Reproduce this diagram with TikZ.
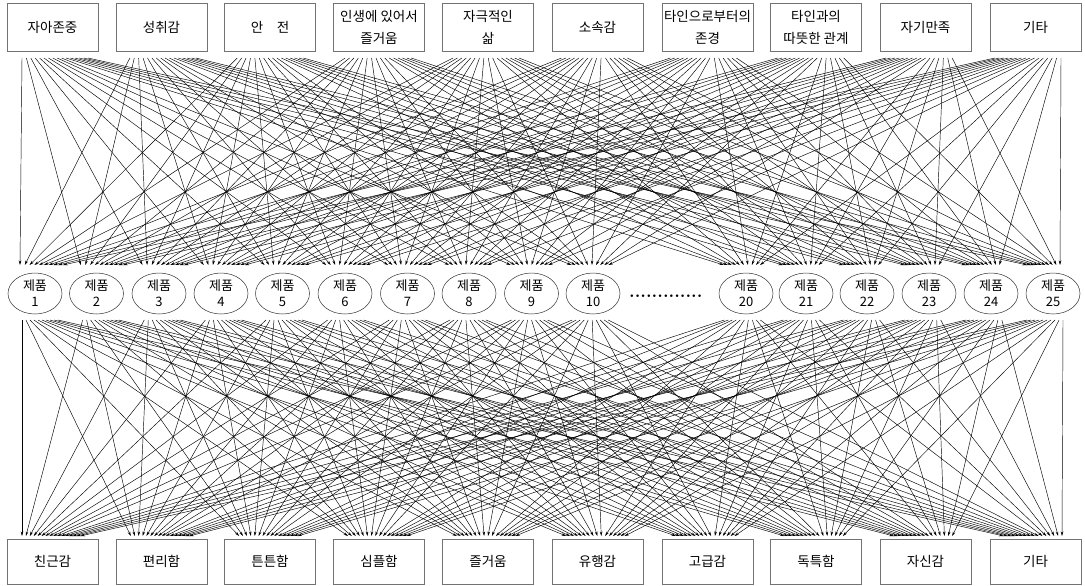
\documentclass[tikz,border=0pt]{standalone}
\usepackage{fontspec}
\newfontfamily\kr{Noto Sans CJK KR}
\usetikzlibrary{calc,arrows.meta,shapes.geometric}
\begin{document}
\begin{tikzpicture}[x=1pt,y=-1pt,
  tbox/.style={draw=black!55, line width=0.6pt, minimum width=91pt, minimum height=48pt, align=center, inner sep=1pt, font=\kr\fontsize{13.5}{22}\selectfont},
  bbox/.style={draw=black!55, line width=0.6pt, minimum width=91pt, minimum height=45pt, align=center, inner sep=1pt, font=\kr\fontsize{13.5}{22}\selectfont},
  ell/.style={ellipse, draw=black!80, line width=0.5pt, minimum width=54pt, minimum height=41pt, inner sep=0pt, align=center, font=\kr\fontsize{13}{16}\selectfont},
  arr/.style={line width=0.45pt, draw=black, -{Stealth[length=4.5pt,width=2.6pt]}}]
\useasboundingbox (0,0) rectangle (1085,586);
\fill[white] (0,0) rectangle (1085,586);
% top boxes
\foreach \x/\t [count=\n from 0] in {52.5/자아존중, 161.5/성취감, 270/{안\quad 전}, 379/{인생에 있어서\\즐거움}, 488/{자극적인\\삶}, 597.5/소속감, 707.5/{타인으로부터의\\존경}, 816/{타인과의\\따뜻한 관계}, 925.5/자기만족, 1035.5/기타}
  \node[tbox] (T\n) at (\x,27) {\t};
% bottom boxes
\foreach \x/\t [count=\n from 0] in {52.5/친근감, 161.5/편리함, 270/튼튼함, 379/심플함, 488/즐거움, 597.5/유행감, 707.5/고급감, 816/독특함, 925.5/자신감, 1035.5/기타}
  \node[bbox] (B\n) at (\x,561.5) {\t};
% ellipses
\foreach \x/\t [count=\n from 0] in {35/1, 96.5/2, 159/3, 221/4, 282.5/5, 345/6, 407.5/7, 469/8, 531.5/9, 593/10, 746/20, 806/21, 867/22, 929/23, 991/24, 1053/25}
  \node[ell] (E\n) at (\x,293.5) {제품\\\t};
\node[anchor=base west, inner sep=0pt, font=\bfseries\fontsize{18}{18}\selectfont] (dots) at (629,297) {.............};
% upper connectors
\foreach \i in {0,...,9} {
  \foreach \j in {0,...,15} {
    \pgfmathsetmacro\sx{-30.5-10*\i/9+\j*4.4}
    \pgfmathsetmacro\ex{-15-11*\j/15+\i*(43-10*\j/15)/9}
    \draw[arr] ($(T\i.center)+(\sx,31)$) -- ($(E\j.center)+(\ex,-28.5)$);
  }
}
% lower connectors
\foreach \j in {0,...,15} {
  \foreach \k in {0,...,9} {
    \pgfmathsetmacro\sx{-13-13*\j/15+\k*4}
    \pgfmathsetmacro\ex{-30.5-1.5*\k/9+\j*3.9}
    \draw[arr] ($(E\j.center)+(\sx,26.5)$) -- ($(B\k.center)+(\ex,-25.5)$);
  }
}
\end{tikzpicture}
\end{document}
